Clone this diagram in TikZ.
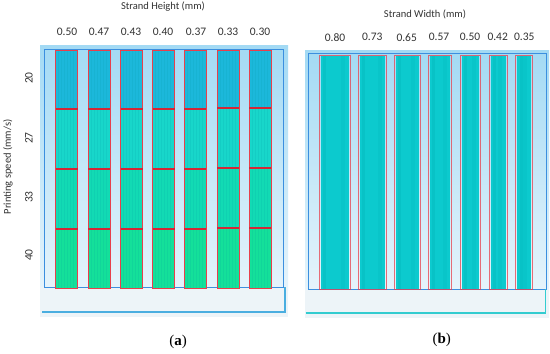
\documentclass[tikz,border=0pt]{standalone}
\usepackage{fontspec}
\setmainfont{Carlito}
\newfontfamily\capfont{Liberation Serif}
\definecolor{panelTop}{HTML}{A3DAF4}
\definecolor{panelBot}{HTML}{E6F4FB}
\definecolor{frameBlue}{HTML}{3B8FDF}
\definecolor{stripBg}{HTML}{EDF4F8}
\definecolor{stripA}{HTML}{4AAEE0}
\definecolor{stripB}{HTML}{33CCD0}
\definecolor{secA}{HTML}{1CB8DA}
\definecolor{secB}{HTML}{18D6CA}
\definecolor{secC}{HTML}{12DAB4}
\definecolor{secD}{HTML}{14E09A}
\definecolor{stripeC}{HTML}{0096A0}
\definecolor{redLine}{HTML}{E8404C}
\definecolor{redDiv}{HTML}{D42636}
\definecolor{cyanCol}{HTML}{0CCACE}
\definecolor{cyanDark}{HTML}{00B2B6}
\definecolor{txt}{HTML}{333333}
\tikzset{
  lbl/.style={font=\fontsize{10.5}{12}\selectfont, text=txt, inner sep=0pt},
  numlbl/.style={font=\fontsize{11.5}{12}\selectfont, text=txt, inner sep=0pt},
  caplbl/.style={font=\capfont\fontsize{15}{16}\selectfont, text=black, inner sep=0pt},
  frameline/.style={draw=frameBlue, line width=1pt},
  redbox/.style={draw=redLine, line width=0.9pt},
  reddiv/.style={draw=redDiv, line width=1.8pt},
}
\begin{document}
\begin{tikzpicture}[x=1pt,y=-1pt]
\useasboundingbox (0,0) rectangle (550,354);
\fill[white] (0,0) rectangle (550,354);

% ---------- panel (a) ----------
\shade[top color=panelTop, bottom color=panelBot] (40,45) rectangle (288,290);
\fill[stripBg] (40,287) rectangle (288,317);
\draw[frameline] (44,49) rectangle (283,287);
\draw[stripA, line width=1.2pt] (42,312) -- (285,312) -- (285,287);

\foreach \x/\a/\b/\c in {55.7/109/169.3/229.3, 88.3/109/169.3/229.3, 120.7/109/169.3/229.3, 152.7/109/169.3/229.3, 184.3/109/169.3/229.3, 217.3/108.3/168.3/228.3, 249.3/108.3/168.3/228.3}{
  \fill[secA] (\x,50) rectangle ++(22,\a-50);
  \fill[secB] (\x,\a) rectangle (\x+22,\b);
  \fill[secC] (\x,\b) rectangle (\x+22,\c);
  \fill[secD] (\x,\c) rectangle (\x+22,288);
  \foreach \k in {3,6,...,20}{
    \draw[stripeC, opacity=0.13, line width=0.8pt] (\x+\k,50) -- (\x+\k,288);
  }
  \draw[redbox] (\x,50) rectangle (\x+22,288);
  \draw[reddiv] (\x,\a) -- (\x+22,\a);
  \draw[reddiv] (\x,\b) -- (\x+22,\b);
  \draw[reddiv] (\x,\c) -- (\x+22,\c);
}

\node[lbl] (ha) at (163,7) {Strand Height (mm)};
\foreach \x/\t [count=\i] in {67/0.50, 99/0.47, 131/0.43, 163/0.40, 196/0.37, 228/0.33, 260/0.30}{
  \node[numlbl] (h\i) at (\x,32) {\t};
}
\node[lbl, rotate=90] (ps) at (8,167) {Printing speed (mm/s)};
\foreach \y/\t [count=\i] in {78/20, 138/27, 197/33, 255/40}{
  \node[numlbl, rotate=90] (s\i) at (29,\y) {\t};
}
\node[caplbl] (capa) at (178,342) {(\textbf{a})};

% ---------- panel (b) ----------
\shade[top color=panelTop, bottom color=panelBot] (305,50) rectangle (549,291);
\fill[stripBg] (305,289) rectangle (549,318);
\draw[frameline] (308.3,53.3) rectangle (546.7,289);
\draw[stripB, line width=1.2pt] (305.7,313) -- (545.7,313) -- (545.7,289);

\foreach \l/\r in {319.3/350, 358.3/386.7, 394.3/420, 428.3/451.7, 460/480.7, 489/507.3, 515.7/532.3}{
  \fill[cyanCol] (\l+1.5,55.7) rectangle (\r-1.5,289);
  \fill[cyanDark, opacity=0.3] (\l+4,55.7) rectangle (\l+7,289);
  \fill[cyanDark, opacity=0.2] (\r-9,55.7) rectangle (\r-5,289);
  \draw[redbox, draw opacity=0.75] (\l,55.7) rectangle (\r,289);
}

\node[lbl] (wa) at (425,14) {Strand Width (mm)};
\foreach \x/\t [count=\i] in {335/0.80, 372.3/0.73, 406.7/0.65, 439/0.57, 470/0.50, 497.7/0.42, 524.3/0.35}{
  \node[numlbl] (w\i) at (\x,37.3) {\t};
}
\node[caplbl] (capb) at (441.7,340) {(\textbf{b})};
\end{tikzpicture}
\end{document}
